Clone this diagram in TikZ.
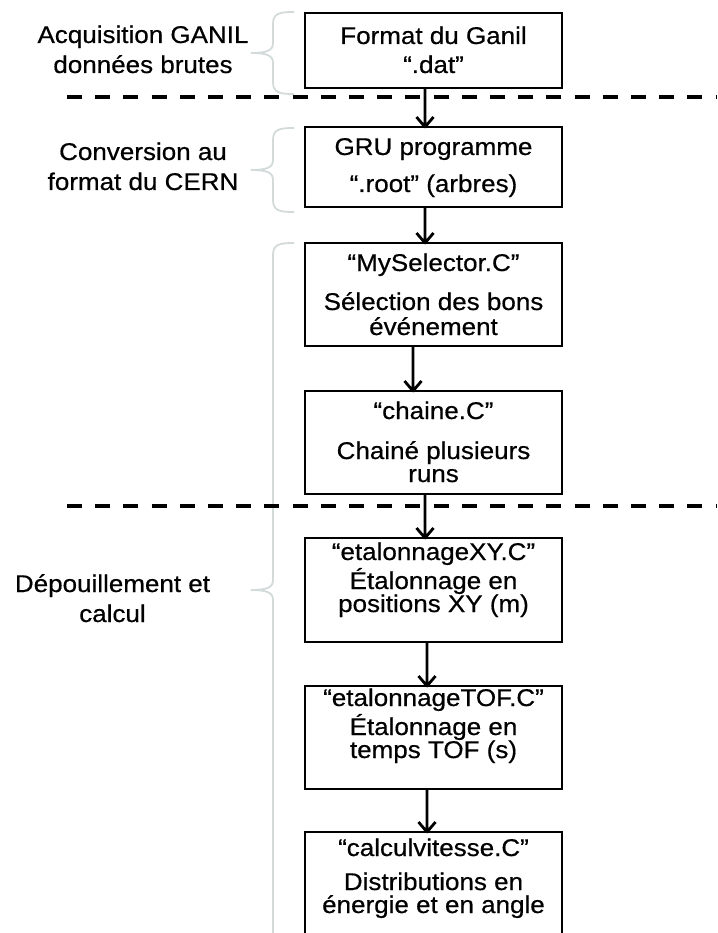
\documentclass[tikz,border=0pt]{standalone}
\usepackage{fontspec}
\setmainfont{Liberation Sans}[FakeBold=0.5]
\definecolor{bracegray}{RGB}{210,218,218}
\newcommand{\flowarrow}[3]{%
  \draw[conn] ([xshift=#3]#1.south) -- ([xshift=#3]#2.north) -- ++(-8.5,-10)
    ([xshift=#3]#2.north) -- ++(8.5,-10);}
\begin{document}
\begin{tikzpicture}[x=1pt,y=-1pt,
  box/.style={draw=black, line width=1.3pt, minimum width=257pt, inner sep=0pt, outer sep=0pt},
  txt/.style={font=\fontsize{26}{28}\selectfont, anchor=base, inner sep=0pt, yscale=0.93},
  conn/.style={line width=2.8pt, line join=round, line cap=butt},
  sepline/.style={line width=4pt, dash pattern=on 15pt off 13.2pt},
  bracepath/.style={draw=bracegray, line width=1.8pt}]
\useasboundingbox (0,0) rectangle (717,933);

% boxes
\node[box, minimum height=75pt]  (b1) at (433.5,50.5) {};
\node[box, minimum height=80pt]  (b2) at (433.5,167) {};
\node[box, minimum height=103pt] (b3) at (433.5,294.5) {};
\node[box, minimum height=103pt] (b4) at (433.5,442.5) {};
\node[box, minimum height=104pt] (b5) at (433.5,590) {};
\node[box, minimum height=103pt] (b6) at (433.5,737.5) {};
\node[box, minimum height=104pt] (b7) at (433.5,884) {};

% box texts
\node[txt] (t1a) at (433.5,44) {Format du Ganil};
\node[txt] (t1b) at (433.5,73) {“.dat”};
\node[txt] (t2a) at (433.5,155) {GRU programme};
\node[txt] (t2b) at (433.5,192) {“.root” (arbres)};
\node[txt] (t3a) at (433.5,271) {“MySelector.C”};
\node[txt] (t3b) at (433.5,310) {Sélection des bons};
\node[txt] (t3c) at (433.5,335) {événement};
\node[txt] (t4a) at (433.5,419) {“chaine.C”};
\node[txt] (t4b) at (433.5,459) {Chainé plusieurs};
\node[txt] (t4c) at (433.5,482) {runs};
\node[txt] (t5a) at (433.5,560) {“etalonnageXY.C”};
\node[txt] (t5b) at (433.5,589) {Étalonnage en};
\node[txt] (t5c) at (433.5,612) {positions XY (m)};
\node[txt] (t6a) at (433.5,706) {“etalonnageTOF.C”};
\node[txt] (t6b) at (433.5,735) {Étalonnage en};
\node[txt] (t6c) at (433.5,758) {temps TOF (s)};
\node[txt] (t7a) at (433.5,856) {“calculvitesse.C”};
\node[txt] (t7b) at (433.5,890) {Distributions en};
\node[txt] (t7c) at (433.5,913) {énergie et en angle};

% left labels
\node[txt] (l1a) at (143,43) {Acquisition GANIL};
\node[txt] (l1b) at (143,73) {données brutes};
\node[txt] (l2a) at (143,160) {Conversion au};
\node[txt] (l2b) at (143,190) {format du CERN};
\node[txt] (l3a) at (112.5,592) {Dépouillement et};
\node[txt] (l3b) at (112.5,622) {calcul};

% braces
\draw[bracepath] (294,12) .. controls (280,12) and (273,13) .. (273,24) -- (273,43)
  .. controls (273,50) and (268,53) .. (251,53)
  .. controls (268,53) and (273,56) .. (273,63) -- (273,82)
  .. controls (273,93) and (280,94) .. (294,94);
\draw[bracepath] (294,128) .. controls (280,128) and (273,129) .. (273,140) -- (273,160)
  .. controls (273,167) and (268,170) .. (251,170)
  .. controls (268,170) and (273,173) .. (273,180) -- (273,200)
  .. controls (273,211) and (280,212) .. (294,212);
\draw[bracepath] (294,243) .. controls (280,243) and (273,244) .. (273,255) -- (273,580)
  .. controls (273,587) and (268,590) .. (251,590)
  .. controls (268,590) and (273,593) .. (273,600) -- (273,950);

% separators
\coordinate (d1a) at (67,97);
\coordinate (d1b) at (717,97);
\coordinate (d2a) at (67,506);
\coordinate (d2b) at (717,506);
\draw[sepline] (d1a) -- (d1b);
\draw[sepline] (d2a) -- (d2b);

% connectors
\flowarrow{b1}{b2}{-8.5pt}
\flowarrow{b2}{b3}{-8.5pt}
\flowarrow{b3}{b4}{-20.5pt}
\flowarrow{b4}{b5}{-8.5pt}
\flowarrow{b5}{b6}{-6.5pt}
\flowarrow{b6}{b7}{-6.5pt}
\end{tikzpicture}
\end{document}
